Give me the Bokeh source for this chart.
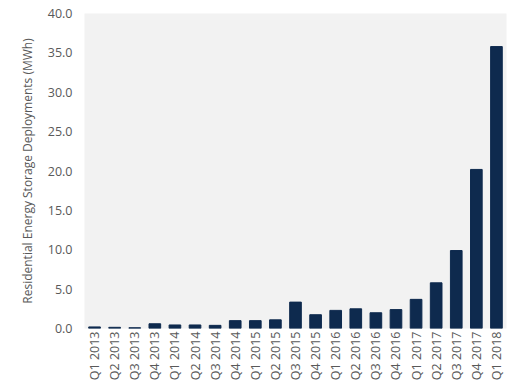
from bokeh.plotting import figure
from bokeh.models import FactorRange, Range1d, NumeralTickFormatter, FixedTicker
from bokeh.embed import file_html
from bokeh.resources import INLINE
import math

quarters = ["Q1 2013", "Q2 2013", "Q3 2013", "Q4 2013",
            "Q1 2014", "Q2 2014", "Q3 2014", "Q4 2014",
            "Q1 2015", "Q2 2015", "Q3 2015", "Q4 2015",
            "Q1 2016", "Q2 2016", "Q3 2016", "Q4 2016",
            "Q1 2017", "Q2 2017", "Q3 2017", "Q4 2017",
            "Q1 2018"]
deployments = [0.2, 0.15, 0.1, 0.6,
               0.45, 0.45, 0.4, 1.0,
               1.0, 1.1, 3.35, 1.75,
               2.3, 2.5, 2.0, 2.4,
               3.7, 5.8, 9.9, 20.2,
               35.8]
y_ticks = [0, 5, 10, 15, 20, 25, 30, 35, 40]

FONT = "Open Sans"
GRAY = "#595959"

p = figure(x_range=FactorRange(*quarters), y_range=Range1d(0, 40),
           width=514, height=387, output_backend="svg", toolbar_location=None,
           min_border_left=84, min_border_right=8, min_border_top=13, min_border_bottom=59)
p.background_fill_color = "#f2f2f2"
p.border_fill_color = "white"
p.outline_line_color = None

p.vbar(x=quarters, top=deployments, width=0.58, color="#0e2a4e")

p.xgrid.grid_line_color = None
p.ygrid.grid_line_color = None

p.yaxis.ticker = FixedTicker(ticks=y_ticks)
p.yaxis.formatter = NumeralTickFormatter(format="0.0")
p.yaxis.axis_label = "Residential Energy Storage Deployments (MWh)"
p.yaxis.axis_label_text_font = FONT
p.yaxis.axis_label_text_font_size = "12px"
p.yaxis.axis_label_text_font_style = "normal"
p.yaxis.axis_label_text_color = GRAY
p.yaxis.axis_label_standoff = 9

for ax in (p.xaxis[0], p.yaxis[0]):
    ax.axis_line_color = None
    ax.major_tick_line_color = None
    ax.minor_tick_line_color = None
    ax.major_tick_out = 0
    ax.major_tick_in = 0
    ax.minor_tick_out = 0
    ax.minor_tick_in = 0
    ax.major_label_text_font = FONT
    ax.major_label_text_color = GRAY

p.yaxis.major_label_text_font_size = "12.5px"
p.yaxis.major_label_standoff = 12
p.xaxis.major_label_text_font_size = "12.5px"
p.xaxis.major_label_orientation = math.pi / 2
p.xaxis.major_label_standoff = 3

open("out.html", "w").write(file_html(p, INLINE))
